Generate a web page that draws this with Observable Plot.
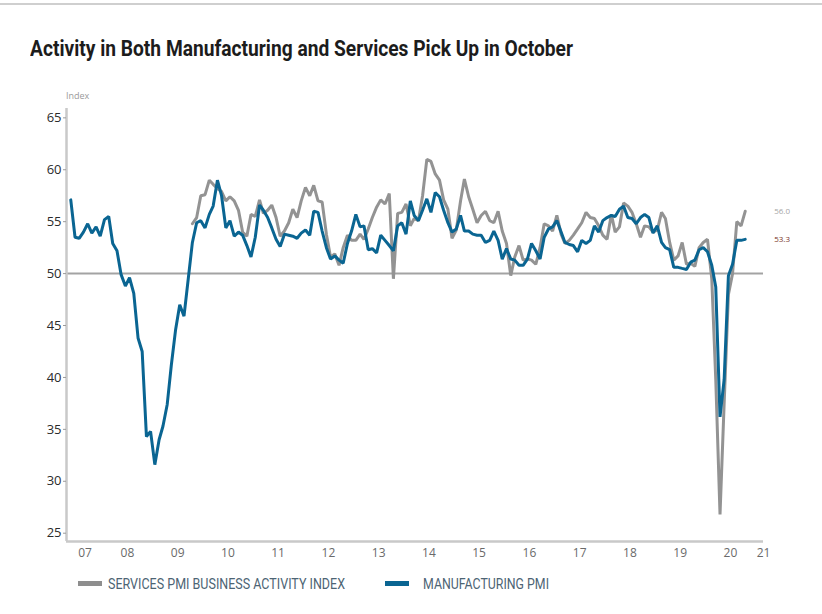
<!DOCTYPE html>
<html>
<head>
<meta charset="utf-8">
<script src="https://cdn.jsdelivr.net/npm/d3@7"></script>
<script src="https://cdn.jsdelivr.net/npm/@observablehq/plot@0.6"></script>
<style>
  html, body { margin: 0; padding: 0; background: #fff; }
  #page { position: relative; width: 822px; height: 614px; overflow: hidden; background: #fff; }
  #topline { position: absolute; left: 0; top: 3px; width: 822px; height: 0; border-top: 2px solid #cfcfcf; }
  .fit { position: absolute; white-space: nowrap; transform-origin: 0 0; font-family: Roboto, "Liberation Sans Narrow", sans-serif; }
  #title { left: 30px; top: 38px; font-size: 22px; line-height: 22px; font-weight: 700; color: #1c1c1c; }
  #ylabel { position: absolute; left: 66px; top: 90px; font-family: "Open Sans", sans-serif; font-size: 9px; line-height: 11px; color: #9a9a9a; }
  .leg { top: 576px; font-size: 15px; line-height: 16px; color: #4d6474; }
  .sw { position: absolute; top: 581px; height: 5px; width: 24px; }
  #chart { position: absolute; left: 0; top: 80px; }
</style>
</head>
<body>
<div id="page">
  <div id="topline"></div>
  <div id="title" class="fit">Activity in Both Manufacturing and Services Pick Up in October</div>
  <div id="ylabel">Index</div>
  <div id="chart"></div>
  <div class="sw" style="left:78px;background:#8e8e8e"></div>
  <div id="leg1" class="fit leg" style="left:108px">SERVICES PMI BUSINESS ACTIVITY INDEX</div>
  <div class="sw" style="left:385px;background:#0a6592"></div>
  <div id="leg2" class="fit leg" style="left:423px">MANUFACTURING PMI</div>
</div>
<script>
// ---- data ----
// Manufacturing PMI, monthly from May 2007 to Oct 2020
const manufacturingStart = [2007, 5];
const manufacturing = [
  57.1, 53.5, 53.4, 54.0, 54.8, 53.9, 54.5, 53.6,
  55.2, 55.5, 52.9, 52.2, 49.9, 48.8, 49.6, 48.1, 43.8, 42.5, 34.3, 34.8,
  31.6, 34.0, 35.3, 37.4, 41.2, 44.6, 47.0, 45.9, 49.5, 53.0, 54.9, 55.1,
  54.4, 55.7, 56.5, 59.0, 57.5, 54.4, 55.1, 53.6, 54.0, 53.7, 52.7, 51.6,
  53.5, 56.6, 56.1, 55.4, 54.4, 53.3, 52.6, 53.8, 53.7, 53.6, 53.4, 53.9,
  54.2, 53.7, 56.0, 55.9, 54.1, 52.5, 51.4, 51.7, 51.3, 51.0, 52.9, 54.1,
  55.7, 54.5, 54.6, 52.3, 52.4, 52.0, 53.7, 53.2, 52.7, 52.2, 54.6, 54.9,
  53.8, 57.0, 55.6, 55.1, 56.1, 57.2, 55.9, 57.8, 57.4, 56.1, 54.9, 54.0,
  54.3, 55.6, 54.1, 54.1, 53.8, 53.7, 53.7, 53.0, 53.2, 54.1, 53.2, 51.4,
  52.4, 51.4, 51.3, 50.8, 50.8, 51.4, 52.9, 52.2, 51.4, 53.5, 54.3, 54.5,
  55.1, 54.0, 53.0, 52.8, 52.7, 52.1, 53.2, 52.9, 53.2, 54.6, 54.0, 55.1,
  55.4, 55.6, 55.5, 56.2, 56.5, 55.4, 55.3, 54.8, 55.4, 55.7, 55.4, 53.9,
  54.6, 53.0, 52.5, 52.3, 50.6, 50.6, 50.5, 50.4, 51.1, 51.3, 52.3, 52.5,
  52.1, 50.8, 48.7, 36.2, 39.8, 49.8, 50.9, 53.2, 53.2, 53.3
];
// Services PMI Business Activity Index, monthly from Oct 2009 to Oct 2020
const servicesStart = [2009, 10];
const services = [
  54.8, 55.4, 57.5,
  57.6, 59.0, 58.6, 58.2, 57.9, 57.0, 57.4, 57.0, 56.1, 54.0, 53.6, 55.7,
  55.5, 57.1, 55.8, 56.1, 56.6, 55.4, 53.6, 54.1, 54.9, 56.2, 55.4, 57.0,
  58.3, 57.5, 58.5, 57.0, 56.9, 53.8, 51.6, 51.9, 50.8, 52.5, 53.7, 53.2,
  53.2, 53.8, 53.3, 54.3, 55.4, 56.4, 57.1, 56.7, 57.7, 49.5, 55.8, 55.9,
  56.7, 54.6, 55.3, 55.1, 57.5, 61.0, 60.8, 59.6, 59.0, 57.1, 56.2, 53.4,
  54.2, 57.0, 59.1, 57.4, 56.2, 54.9, 55.6, 56.0, 55.1, 54.9, 56.0, 54.1,
  52.9, 49.8, 51.6, 52.7, 51.3, 51.4, 51.3, 50.9, 52.5, 54.8, 54.6, 54.1,
  55.6, 53.8, 52.9, 53.2, 53.7, 54.3, 54.9, 55.9, 55.4, 55.3, 54.6, 53.7,
  53.3, 55.7, 54.0, 54.5, 56.8, 56.5, 55.9, 54.8, 53.5, 54.6, 54.5, 54.0,
  54.2, 55.9, 55.3, 53.0, 51.3, 51.7, 53.0, 50.9, 51.0, 50.7, 52.5, 53.0,
  53.3, 49.5, 39.8, 26.8, 37.5, 48.0, 50.0, 55.0, 54.6, 56.0
];
const yTicks = [25, 30, 35, 40, 45, 50, 55, 60, 65];
const yearLabels = ["07","08","09","10","11","12","13","14","15","16","17","18","19","20","21"];
const referenceLevel = [50];

// ---- build series ----
function monthly(start, values, name) {
  return values.map((v, i) => ({series: name, date: new Date(Date.UTC(start[0], start[1] - 1 + i, 1)), value: v}));
}
const mfg = monthly(manufacturingStart, manufacturing, "Manufacturing PMI");
const svc = monthly(servicesStart, services, "Services PMI Business Activity Index");

const xStart = new Date(Date.UTC(2007, 2, 31));
const xEnd = new Date(Date.UTC(2021, 1, 11));
const yDomain = [24.2, 65.9];

// tick positions: mid-year, first and last kept inside the axis
const tickDates = yearLabels.map((lab, i) => {
  const yr = 2007 + i;
  if (i === 0) return new Date(Date.UTC(yr, 7, 13));
  if (i === yearLabels.length - 1) return xEnd;
  return new Date(Date.UTC(yr, 5, 16));
});
const tickLabel = new Map(tickDates.map((d, i) => [+d, yearLabels[i]]));

const lastMfg = mfg[mfg.length - 1];
const lastSvc = svc[svc.length - 1];

const chart = Plot.plot({
  width: 822,
  height: 490,
  marginLeft: 66,
  marginRight: 59,
  marginTop: 28,
  marginBottom: 29,
  style: {fontFamily: "'Open Sans', sans-serif", background: "transparent", overflow: "visible"},
  x: {type: "utc", domain: [xStart, xEnd]},
  y: {domain: yDomain},
  marks: [
    Plot.ruleY(referenceLevel, {stroke: "#a3a3a3", strokeWidth: 2}),
    Plot.ruleX([xStart], {stroke: "#c9c9c9", strokeWidth: 2.5}),
    Plot.ruleY([yDomain[0]], {stroke: "#c9c9c9", strokeWidth: 2.5}),
    Plot.axisY({ticks: yTicks, tickSize: 3, tickPadding: 2, label: null, fontSize: 13, color: "#2b2b2b", stroke: "#9a9a9a"}),
    Plot.axisX({ticks: tickDates, tickFormat: d => tickLabel.get(+d), tickSize: 0, tickPadding: 7, label: null, fontSize: 12, color: "#6a6a6a"}),
    Plot.lineY(svc, {x: "date", y: "value", stroke: "#939393", strokeWidth: 3, strokeLinejoin: "miter"}),
    Plot.lineY(mfg, {x: "date", y: "value", stroke: "#0a6592", strokeWidth: 3, strokeLinejoin: "miter"}),
    Plot.text([lastSvc], {x: "date", y: "value", text: d => d.value.toFixed(1), dx: 29, textAnchor: "start", fontSize: 8, fill: "#a6a6a6"}),
    Plot.text([lastMfg], {x: "date", y: "value", text: d => d.value.toFixed(1), dx: 29, textAnchor: "start", fontSize: 8, fill: "#7a3428"})
  ]
});
document.getElementById("chart").appendChild(chart);

// fit condensed-looking text to the reference widths
function fit(id, w) {
  const el = document.getElementById(id);
  const r = el.getBoundingClientRect().width;
  if (r > 0) el.style.transform = `scaleX(${w / r})`;
}
fit("title", 543);
fit("leg1", 237);
fit("leg2", 126);
</script>
</body>
</html>
